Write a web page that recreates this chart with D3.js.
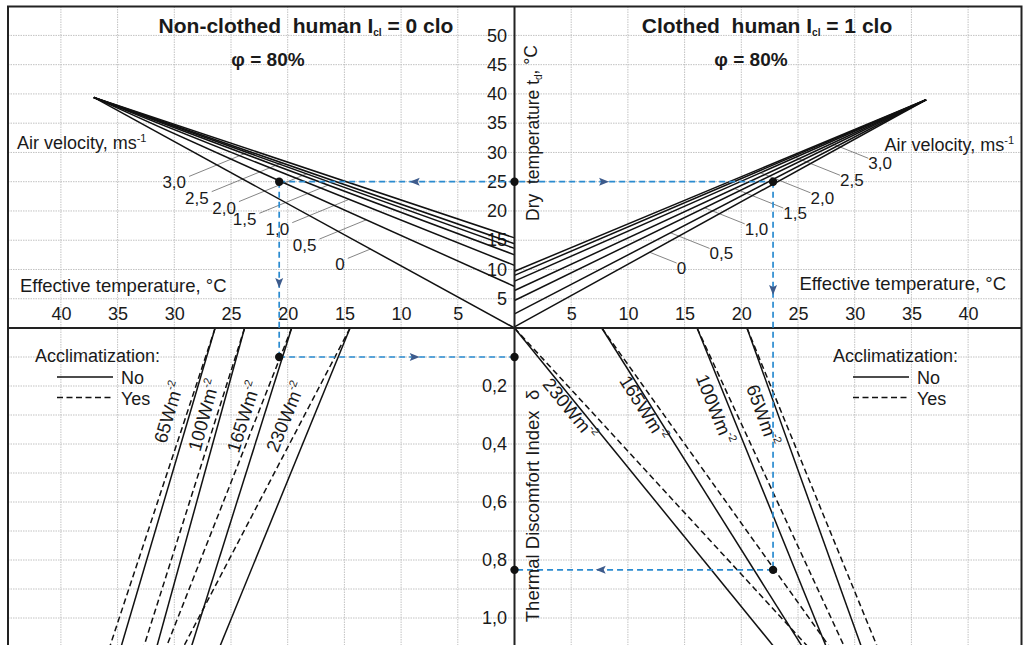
<!DOCTYPE html>
<html>
<head>
<meta charset="utf-8">
<script src="https://cdn.jsdelivr.net/npm/d3@7"></script>
<style>
  body { margin: 0; background: #fff; }
  svg text { font-family: "Liberation Sans", Arial, sans-serif; fill: #1a1a1a; }
</style>
</head>
<body>
<div id="chart"></div>
<script>
// ---- data ----
const velocities = [0, 0.5, 1.0, 1.5, 2.0, 2.5, 3.0];
const velocityLabels = ["0", "0,5", "1,0", "1,5", "2,0", "2,5", "3,0"];
// dry temperature where each air velocity line meets ET = 0
const dryAtZeroNude = [0, 7.1, 10.7, 12.5, 13.6, 14.4, 15.4];
const dryAtZeroClothed = [0.2, 2.4, 4.7, 6.4, 8.0, 9.0, 9.7];
// where the fans converge [ET, dry temperature]
const focusNude = [37.1, 39.4];
const focusClothed = [36.3, 39.0];
// label anchors of the velocity labels [ET, dry temperature]
const velLabelNude = [[14.7, 11.9], [17.2, 15.2], [19.6, 18.0], [22.5, 19.6], [24.3, 21.6], [26.7, 23.3], [28.7, 25.9]];
const velLabelClothed = [[14.3, 11.1], [17.2, 13.6], [20.3, 17.8], [23.7, 20.5], [26.1, 23.1], [28.7, 26.1], [31.2, 29.0]];

// metabolic rate lines: ET at delta = 0 and ET at delta = 1.1
const metabolic = ["65", "100", "165", "230"];
const nudeNo = [[26.4, 34.7], [23.8, 31.55], [19.65, 28.5], [14.5, 26.0]];
const nudeYes = [[26.4, 35.7], [23.8, 32.7], [19.65, 30.7], [14.5, 29.2]];
const clothNo = [[20.5, 30.6], [16.1, 27.5], [7.7, 25.4], [0, 22.9]];
const clothYes = [[20.5, 32.0], [16.1, 29.1], [7.7, 27.8], [0, 25.9]];
// rate label centres [ET, delta]
const rateLabelNude = [[30.5, 0.29], [27.4, 0.30], [23.9, 0.306], [20.2, 0.306]];
const rateLabelClothed = [[21.9, 0.30], [17.7, 0.28], [11.4, 0.277], [4.9, 0.279]];

// worked example (dashed blue)
const exampleDry = 25;
const exampleNude = [20.75, 0.10];   // [ET, delta]
const exampleClothed = [22.8, 0.834];

// ticks
const etTicks = [5, 10, 15, 20, 25, 30, 35, 40];
const dryTicks = [5, 10, 15, 20, 25, 30, 35, 40, 45, 50];
const deltaTicks = [0.2, 0.4, 0.6, 0.8, 1.0];
const deltaGrid = [0.1, 0.2, 0.3, 0.4, 0.5, 0.6, 0.7, 0.8, 0.9, 1.0, 1.1];

// ---- layout ----
const W = 1025, H = 645;
const cx = 514.5, cy = 328;
const frame = { left: 8, right: 1021.5, top: 6.5, bottom: 665 };

const svg = d3.select('#chart').append('svg')
    .attr('width', W)
    .attr('height', H);

const xNude = d3.scaleLinear().domain([0, 40]).range([cx, cx - 8 * 56.7]);
const xCloth = d3.scaleLinear().domain([0, 40]).range([cx, cx + 8 * 56.7]);
const yDry = d3.scaleLinear().domain([0, 50]).range([cy, cy - 10 * 29.26]);
const yDelta = d3.scaleLinear().domain([0, 1]).range([cy, cy + 290]);

svg.append('clipPath').attr('id', 'clip')
    .append('rect')
    .attr('x', frame.left).attr('y', frame.top)
    .attr('width', frame.right - frame.left)
    .attr('height', frame.bottom - frame.top);

// grid
const grid = svg.append('g')
    .attr('stroke', '#c2c2c2')
    .attr('stroke-width', 1)
    .attr('stroke-dasharray', '1.5,1');

grid.selectAll('.gv')
    .data(etTicks.map(xNude).concat(etTicks.map(xCloth)))
    .enter().append('line')
    .attr('x1', d => d).attr('x2', d => d)
    .attr('y1', frame.top).attr('y2', frame.bottom);

grid.selectAll('.gh')
    .data(dryTicks.map(yDry).concat(deltaGrid.map(yDelta)))
    .enter().append('line')
    .attr('x1', frame.left).attr('x2', frame.right)
    .attr('y1', d => d).attr('y2', d => d);

// tick labels via d3 axes
function styleAxis(g) {
    g.select('.domain').remove();
    g.selectAll('text').style('font-size', '18px').attr('fill', '#1a1a1a');
}
svg.append('g').attr('transform', `translate(0,${cy - 21})`)
    .call(d3.axisBottom(xNude).tickValues(etTicks).tickSize(0).tickPadding(0))
    .call(styleAxis);
svg.append('g').attr('transform', `translate(0,${cy - 21})`)
    .call(d3.axisBottom(xCloth).tickValues(etTicks).tickSize(0).tickPadding(0))
    .call(styleAxis);
svg.append('g').attr('transform', 'translate(507,0)')
    .call(d3.axisLeft(yDry).tickValues(dryTicks).tickSize(0).tickPadding(0))
    .call(styleAxis);
svg.append('g').attr('transform', 'translate(507,0)')
    .call(d3.axisLeft(yDelta).tickValues(deltaTicks).tickSize(0).tickPadding(0)
        .tickFormat(d => d3.format('.1f')(d).replace('.', ',')))
    .call(styleAxis);

const plot = svg.append('g').attr('clip-path', 'url(#clip)');

// leader lines for velocity labels
function intersect(s, d, a, b) {
    const r = [b[0] - a[0], b[1] - a[1]];
    const den = d[0] * r[1] - d[1] * r[0];
    const t = ((a[0] - s[0]) * r[1] - (a[1] - s[1]) * r[0]) / den;
    return [s[0] + t * d[0], s[1] + t * d[1]];
}

const leaders = plot.append('g').attr('stroke', '#666').attr('stroke-width', 0.8);
velocities.forEach((v, i) => {
    // non-clothed
    const a = [xNude(focusNude[0]), yDry(focusNude[1])];
    const b = [xNude(0), yDry(dryAtZeroNude[i])];
    const s = [xNude(velLabelNude[i][0]), yDry(velLabelNude[i][1])];
    const e = intersect(s, [40.7, -16.7], a, b);
    leaders.append('line').attr('x1', s[0]).attr('y1', s[1]).attr('x2', e[0]).attr('y2', e[1]);
    svg.append('text').attr('x', s[0] - 3).attr('y', s[1] + 12)
        .attr('text-anchor', 'end').style('font-size', '17px').attr('fill', '#333').text(velocityLabels[i]);

    // clothed
    const a2 = [xCloth(focusClothed[0]), yDry(focusClothed[1])];
    const b2 = [xCloth(0), yDry(dryAtZeroClothed[i])];
    const s2 = [xCloth(velLabelClothed[i][0]), yDry(velLabelClothed[i][1])];
    const e2 = intersect(s2, [-25, -10], a2, b2);
    leaders.append('line').attr('x1', s2[0]).attr('y1', s2[1]).attr('x2', e2[0]).attr('y2', e2[1]);
    svg.append('text').attr('x', s2[0]).attr('y', s2[1] + 11)
        .attr('text-anchor', 'start').style('font-size', '17px').attr('fill', '#333').text(velocityLabels[i]);
});

// air velocity fans
const line = d3.line();
const fans = plot.append('g').attr('stroke', '#111').attr('stroke-width', 1.5).attr('fill', 'none');
fans.selectAll('.fn').data(dryAtZeroNude).enter().append('path')
    .attr('d', d => line([[xNude(focusNude[0]), yDry(focusNude[1])], [xNude(0), yDry(d)]]));
fans.selectAll('.fc').data(dryAtZeroClothed).enter().append('path')
    .attr('d', d => line([[xCloth(focusClothed[0]), yDry(focusClothed[1])], [xCloth(0), yDry(d)]]));

// metabolic rate lines
const rates = plot.append('g').attr('stroke', '#111').attr('stroke-width', 1.5).attr('fill', 'none');
function rateLine(xs, pair) {
    return line([[xs(pair[0]), yDelta(0)], [xs(pair[1]), yDelta(1.1)]]);
}
rates.selectAll('.nn').data(nudeNo).enter().append('path').attr('d', d => rateLine(xNude, d));
rates.selectAll('.ny').data(nudeYes).enter().append('path').attr('d', d => rateLine(xNude, d))
    .attr('stroke-dasharray', '6,3.5');
rates.selectAll('.cn').data(clothNo).enter().append('path').attr('d', d => rateLine(xCloth, d));
rates.selectAll('.cy').data(clothYes).enter().append('path').attr('d', d => rateLine(xCloth, d))
    .attr('stroke-dasharray', '6,3.5');

// rate labels, rotated along their line
function rateLabel(xs, pos, pair, name, upward) {
    let dx = xs(pair[1]) - xs(pair[0]);
    let dy = yDelta(1.1) - yDelta(0);
    if (upward) { dx = -dx; dy = -dy; }
    const ang = Math.atan2(dy, dx) * 180 / Math.PI;
    const t = svg.append('text')
        .attr('transform', `translate(${xs(pos[0])},${yDelta(pos[1])}) rotate(${ang})`)
        .attr('text-anchor', 'middle').attr('dy', '0.35em')
        .style('font-size', '18.5px').attr('fill', '#333');
    t.append('tspan').text(name + 'Wm');
    t.append('tspan').attr('dy', '-0.75em').style('font-size', '11px').text('-2');
}
metabolic.forEach((m, i) => {
    rateLabel(xNude, rateLabelNude[i], nudeNo[i], m, true);
    rateLabel(xCloth, rateLabelClothed[i], clothNo[i], m, false);
});

// frame and central axes
svg.append('rect')
    .attr('x', frame.left).attr('y', frame.top)
    .attr('width', frame.right - frame.left).attr('height', frame.bottom - frame.top)
    .attr('fill', 'none').attr('stroke', '#222').attr('stroke-width', 2);
svg.append('line').attr('x1', cx).attr('x2', cx).attr('y1', frame.top).attr('y2', frame.bottom)
    .attr('stroke', '#222').attr('stroke-width', 2);
svg.append('line').attr('x1', frame.left).attr('x2', frame.right).attr('y1', cy).attr('y2', cy)
    .attr('stroke', '#222').attr('stroke-width', 2);

// worked example
const pN = [xNude(exampleNude[0]), yDry(exampleDry)];
const pC = [xCloth(exampleClothed[0]), yDry(exampleDry)];
const qN = [pN[0], yDelta(exampleNude[1])];
const qC = [pC[0], yDelta(exampleClothed[1])];
const route = [
    [pN, pC],
    [pN, qN],
    [qN, [cx, qN[1]]],
    [pC, qC],
    [qC, [cx, qC[1]]]
];
const blue = svg.append('g').attr('stroke', '#2a8bd0').attr('stroke-width', 1.7)
    .attr('stroke-dasharray', '6,4').attr('fill', 'none');
route.forEach(r => blue.append('path').attr('d', line(r)));

// arrows: [x, y, direction angle]
const arrows = [
    [xNude(8.8), yDry(exampleDry), 180],
    [xCloth(7.9), yDry(exampleDry), 0],
    [pN[0], yDry(7.7), 90],
    [pC[0], yDry(6.5), 90],
    [xNude(8.8), qN[1], 0],
    [xCloth(7.6), qC[1], 180]
];
svg.selectAll('.arrow').data(arrows).enter().append('path')
    .attr('d', 'M5,0 L-5,-4 L-3,0 L-5,4 Z')
    .attr('fill', '#3d5b8c')
    .attr('transform', d => `translate(${d[0]},${d[1]}) rotate(${d[2]})`);

const dots = [pN, [cx, pN[1]], pC, qN, [cx, qN[1]], qC, [cx, qC[1]]];
svg.selectAll('.dot').data(dots).enter().append('circle')
    .attr('cx', d => d[0]).attr('cy', d => d[1]).attr('r', 4.2).attr('fill', '#111');

// titles
function title(x, y, main, sub, tail) {
    const t = svg.append('text').attr('x', x).attr('y', y).attr('text-anchor', 'middle')
        .style('font-size', '21px').style('font-weight', 'bold');
    t.append('tspan').text(main);
    t.append('tspan').attr('dy', '0.3em').style('font-size', '10px').text(sub);
    t.append('tspan').attr('dy', '-0.15em').text(tail);
}
title(306, 33, 'Non-clothed\u00a0 human I', 'cl', ' = 0 clo');
title(767, 33, 'Clothed\u00a0 human I', 'cl', ' = 1 clo');
svg.append('text').attr('x', 268).attr('y', 66).attr('text-anchor', 'middle')
    .style('font-size', '19px').style('font-weight', 'bold').text('\u03c6 = 80%');
svg.append('text').attr('x', 751).attr('y', 66).attr('text-anchor', 'middle')
    .style('font-size', '19px').style('font-weight', 'bold').text('\u03c6 = 80%');

// axis titles
const dryT = svg.append('text').attr('transform', 'translate(539,133) rotate(-90)')
    .attr('text-anchor', 'middle').style('font-size', '17.5px');
dryT.append('tspan').text('Dry\u00a0 temperature t');
dryT.append('tspan').attr('dy', '0.3em').style('font-size', '10px').text('d');
dryT.append('tspan').attr('dy', '-0.3em').text(', \u00b0C');

svg.append('text').attr('transform', 'translate(539,506) rotate(-90)')
    .attr('text-anchor', 'middle').style('font-size', '18.5px')
    .text('Thermal Discomfort Index\u00a0 \u03b4');

svg.append('text').attr('x', 20).attr('y', 292).style('font-size', '18.5px')
    .text('Effective temperature, \u00b0C');
svg.append('text').attr('x', 1006).attr('y', 290).attr('text-anchor', 'end').style('font-size', '18.5px')
    .text('Effective temperature, \u00b0C');

function airLabel(x, y, anchor) {
    const t = svg.append('text').attr('x', x).attr('y', y).attr('text-anchor', anchor)
        .style('font-size', '18px');
    t.append('tspan').text('Air velocity, ms');
    t.append('tspan').attr('dy', '-0.6em').style('font-size', '11px').text('-1');
}
airLabel(17, 149, 'start');
airLabel(1014, 151, 'end');

// acclimatization legends
function legend(x, lineX) {
    svg.append('text').attr('x', x).attr('y', 362).style('font-size', '18px').text('Acclimatization:');
    svg.append('line').attr('x1', lineX).attr('x2', lineX + 56).attr('y1', 377).attr('y2', 377)
        .attr('stroke', '#111').attr('stroke-width', 1.4);
    svg.append('line').attr('x1', lineX).attr('x2', lineX + 56).attr('y1', 397.5).attr('y2', 397.5)
        .attr('stroke', '#111').attr('stroke-width', 1.4).attr('stroke-dasharray', '6,3.5');
    svg.append('text').attr('x', lineX + 64).attr('y', 384).style('font-size', '18px').text('No');
    svg.append('text').attr('x', lineX + 64).attr('y', 405).style('font-size', '18px').text('Yes');
}
legend(35, 57);
legend(833, 853);
</script>
</body>
</html>
